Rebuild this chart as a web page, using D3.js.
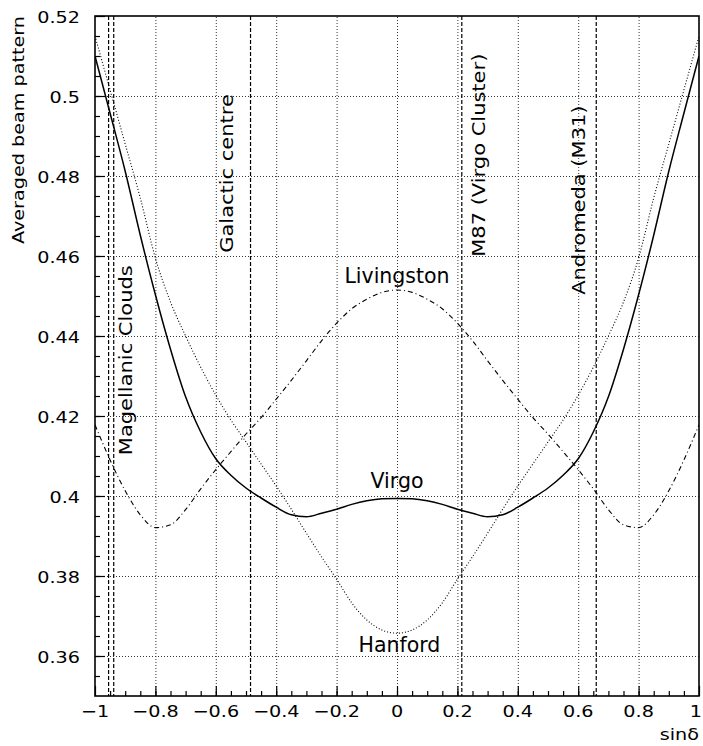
<!DOCTYPE html>
<html>
<head>
<meta charset="utf-8">
<script src="https://cdn.jsdelivr.net/npm/d3@7"></script>
<style>
  body { margin: 0; background: #fff; }
  text { font-family: "DejaVu Sans", sans-serif; fill: #000; }
</style>
</head>
<body>
<div id="chart"></div>
<script>
// Averaged beam pattern vs sin(declination)
var sinDec = [-1, -0.95, -0.9, -0.85, -0.8, -0.75, -0.7, -0.65, -0.6, -0.55, -0.5,
  -0.45, -0.4, -0.35, -0.3, -0.25, -0.2, -0.15, -0.1, -0.05, 0,
  0.05, 0.1, 0.15, 0.2, 0.25, 0.3, 0.35, 0.4, 0.45, 0.5,
  0.55, 0.6, 0.65, 0.7, 0.75, 0.8, 0.85, 0.9, 0.95, 1];

var virgo = [0.510, 0.4957, 0.4812, 0.4652, 0.4503, 0.4367, 0.4248, 0.4160, 0.4093, 0.4052, 0.4020,
  0.3995, 0.3972, 0.3953, 0.3948, 0.3957, 0.3967, 0.3979, 0.3988, 0.3993, 0.3994,
  0.3993, 0.3988, 0.3979, 0.3967, 0.3957, 0.3948, 0.3953, 0.3972, 0.3995, 0.4020,
  0.4052, 0.4093, 0.4160, 0.4248, 0.4367, 0.4503, 0.4652, 0.4812, 0.4957, 0.510];

var hanford = [0.515, 0.5015, 0.4880, 0.4745, 0.4595, 0.4485, 0.4400, 0.4322, 0.4252, 0.4190, 0.4135,
  0.4080, 0.4025, 0.3967, 0.3907, 0.3848, 0.3792, 0.3733, 0.3690, 0.3665, 0.3657,
  0.3665, 0.3690, 0.3733, 0.3792, 0.3848, 0.3907, 0.3967, 0.4025, 0.4080, 0.4135,
  0.4190, 0.4252, 0.4322, 0.4400, 0.4485, 0.4595, 0.4745, 0.4880, 0.5015, 0.515];

var livingston = [0.4178, 0.4090, 0.4013, 0.3953, 0.3921, 0.3928, 0.3966, 0.4018, 0.4066, 0.4111, 0.4155,
  0.4196, 0.4242, 0.4289, 0.4338, 0.4388, 0.4432, 0.4468, 0.4492, 0.4509, 0.4515,
  0.4509, 0.4492, 0.4468, 0.4432, 0.4388, 0.4338, 0.4289, 0.4242, 0.4196, 0.4155,
  0.4111, 0.4066, 0.4018, 0.3966, 0.3928, 0.3921, 0.3953, 0.4013, 0.4090, 0.4178];

var curveNames = ["Livingston", "Virgo", "Hanford"];

// sin(dec) of the marked sources (LMC, SMC, Galactic centre, M87, M31)
var sourceSinDec = [-0.955, -0.938, -0.485, 0.2146, 0.6597];
var sourceNames = ["Magellanic Clouds", "Galactic centre", "M87 (Virgo Cluster)", "Andromeda (M31)"];

var xTicks = [-1, -0.8, -0.6, -0.4, -0.2, 0, 0.2, 0.4, 0.6, 0.8, 1];
var yTicks = [0.36, 0.38, 0.4, 0.42, 0.44, 0.46, 0.48, 0.5, 0.52];

// label anchors in data units
var curveLabelAt = [[0, 0.4532], [0, 0.4019], [0.008, 0.3611]];
var sourceLabelAt = [[-0.8775, 0.4102], [-0.543, 0.4608], [0.293, 0.4598], [0.6225, 0.4503]];

var width = 703, height = 746;
var x = d3.scaleLinear().domain([-1, 1]).range([95, 699]);
var y = d3.scaleLinear().domain([0.35, 0.52]).range([696, 16]);

var svg = d3.select("#chart")
  .append("svg")
    .attr("width", width)
    .attr("height", height);

svg.append("defs").append("clipPath").attr("id", "plot")
  .append("rect")
    .attr("x", 95).attr("y", 16)
    .attr("width", 604).attr("height", 680);

// grid
var gx = svg.append("g")
  .attr("transform", "translate(0,696)")
  .call(d3.axisBottom(x).tickValues(xTicks.slice(1, -1)).tickSize(-680).tickFormat(""));
var gy = svg.append("g")
  .attr("transform", "translate(95,0)")
  .call(d3.axisLeft(y).tickValues(yTicks.slice(0, -1)).tickSize(-604).tickFormat(""));
[gx, gy].forEach(function(g) {
  g.select(".domain").remove();
  g.selectAll("line")
    .attr("stroke", "#333")
    .attr("stroke-width", 1)
    .attr("stroke-dasharray", "1,2");
});

// inward ticks
var xMinor = d3.range(-19, 20).map(function(i) { return i * 0.05; });
var yMinor = d3.range(1, 34).map(function(i) { return 0.35 + i * 0.005; });

function tickAxis(axis, pos, vals, size) {
  var g = svg.append("g")
    .attr("transform", pos)
    .call(axis.tickValues(vals).tickSize(-size).tickFormat(""));
  g.select(".domain").remove();
  g.selectAll("line").attr("stroke", "#000").attr("stroke-width", 1.2);
}
tickAxis(d3.axisBottom(x), "translate(0,696)", xMinor, 5);
tickAxis(d3.axisBottom(x), "translate(0,696)", xTicks, 10);
tickAxis(d3.axisLeft(y), "translate(95,0)", yMinor, 5);
tickAxis(d3.axisLeft(y), "translate(95,0)", yTicks, 10);

// source markers
svg.append("g")
  .selectAll("line")
  .data(sourceSinDec)
  .join("line")
    .attr("x1", function(d) { return x(d); })
    .attr("x2", function(d) { return x(d); })
    .attr("y1", y(0.52))
    .attr("y2", y(0.35))
    .attr("stroke", "#000")
    .attr("stroke-width", 1.2)
    .attr("stroke-dasharray", "4,2");

// curves
var series = [
  { values: livingston, dash: "5,3,1,3", w: 1.1 },
  { values: virgo, dash: null, w: 1.5 },
  { values: hanford, dash: "1,2", w: 1.1 }
];

var line = d3.line()
  .x(function(d) { return x(d[0]); })
  .y(function(d) { return y(d[1]); })
  .curve(d3.curveMonotoneX);

svg.append("g")
  .attr("clip-path", "url(#plot)")
  .selectAll("path")
  .data(series)
  .join("path")
    .attr("d", function(s) { return line(d3.zip(sinDec, s.values)); })
    .attr("fill", "none")
    .attr("stroke", "#000")
    .attr("stroke-width", function(s) { return s.w; })
    .attr("stroke-dasharray", function(s) { return s.dash; });

// frame
svg.append("rect")
  .attr("x", 95).attr("y", 16)
  .attr("width", 604).attr("height", 680)
  .attr("fill", "none")
  .attr("stroke", "#000")
  .attr("stroke-width", 1.6);

// tick labels
function fmt(d) { return String(d).replace("-", "\u2212"); }

svg.append("g")
  .selectAll("text")
  .data(yTicks)
  .join("text")
    .attr("text-anchor", "end")
    .attr("font-size", 16)
    .attr("transform", function(d) { return "translate(80," + (y(d) + 7) + ") scale(1.2,1)"; })
    .text(fmt);

svg.append("g")
  .selectAll("text")
  .data(xTicks)
  .join("text")
    .attr("text-anchor", function(d) { return d === 1 ? "end" : "middle"; })
    .attr("font-size", 16)
    .attr("transform", function(d) {
      var px = d === 1 ? x(d) + 3 : x(d);
      return "translate(" + px + ",717) scale(1.2,1)";
    })
    .text(fmt);

// axis titles
svg.append("text")
  .attr("text-anchor", "end")
  .attr("font-size", 16)
  .attr("transform", "translate(24,16) rotate(-90) scale(1.2,1)")
  .text("Averaged beam pattern");

svg.append("text")
  .attr("text-anchor", "end")
  .attr("font-size", 16)
  .attr("transform", "translate(699,740) scale(1.2,1)")
  .text("sin\u03b4");

// curve labels
svg.append("g")
  .selectAll("text")
  .data(curveNames)
  .join("text")
    .attr("text-anchor", "middle")
    .attr("font-size", 20.5)
    .attr("x", function(d, i) { return x(curveLabelAt[i][0]); })
    .attr("y", function(d, i) { return y(curveLabelAt[i][1]); })
    .text(function(d) { return d; });

// source labels
svg.append("g")
  .selectAll("text")
  .data(sourceNames)
  .join("text")
    .attr("font-size", 17.5)
    .attr("transform", function(d, i) {
      return "translate(" + x(sourceLabelAt[i][0]) + "," + y(sourceLabelAt[i][1]) + ") rotate(-90) scale(1.2,1)";
    })
    .text(function(d) { return d; });
</script>
</body>
</html>
